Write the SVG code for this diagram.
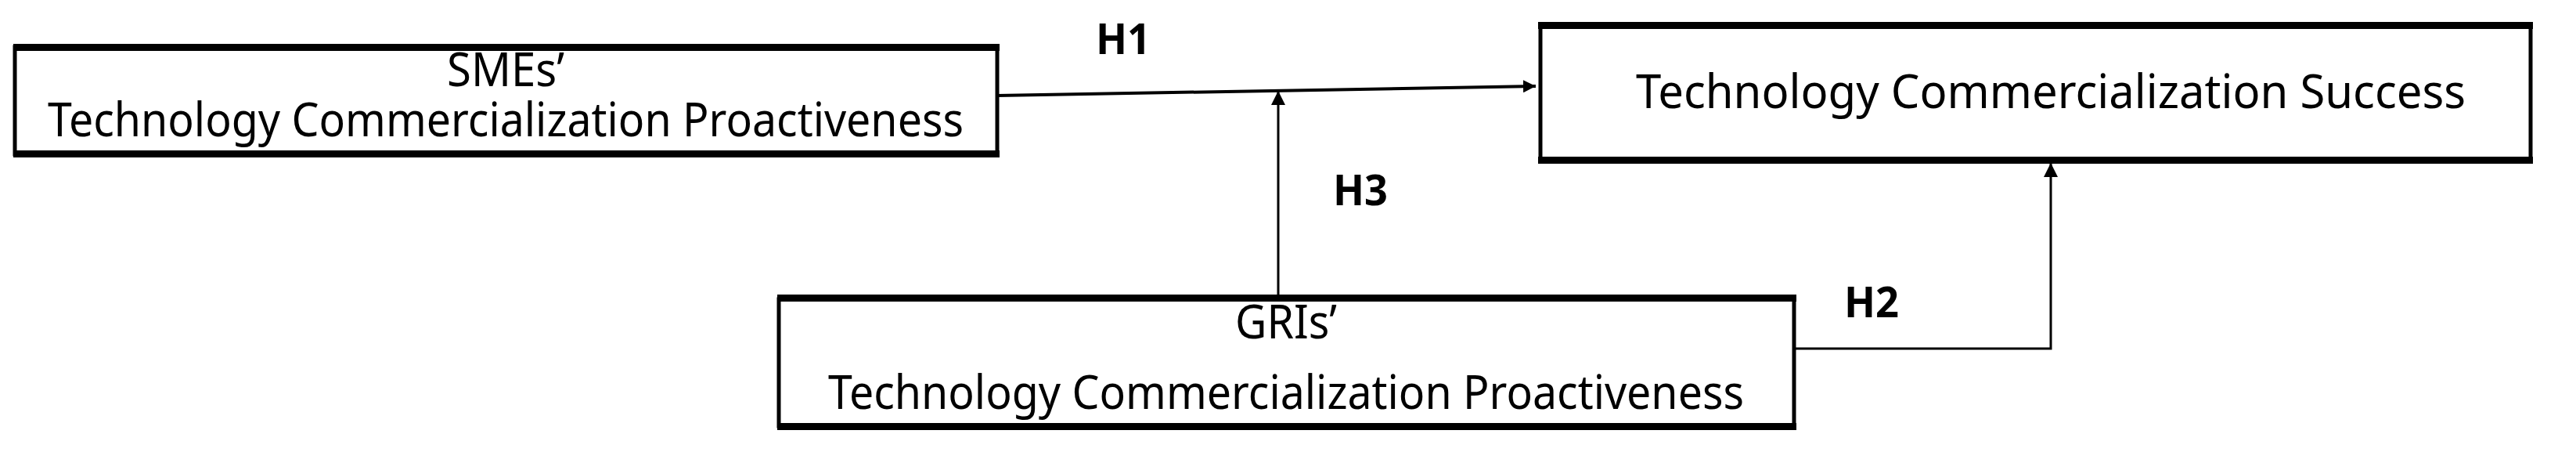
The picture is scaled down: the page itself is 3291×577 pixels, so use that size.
<svg xmlns="http://www.w3.org/2000/svg" width="3291" height="577" viewBox="0 0 3291 577">
<style>
.box{fill:#fff;stroke:#000;stroke-width:5}
.bar{fill:#000}
.t{font-family:"Noto Sans","DejaVu Sans",sans-serif;font-size:60px;text-anchor:middle;fill:#000}
.h{font-family:"Noto Sans","DejaVu Sans",sans-serif;font-size:54px;font-weight:bold;text-anchor:middle;fill:#000}
.c{fill:none;stroke:#000;stroke-width:3}
</style>
<defs>
<marker id="a" viewBox="0 0 10 10" refX="10" refY="5" markerWidth="6" markerHeight="6" markerUnits="strokeWidth" orient="auto"><path d="M0,0L10,5L0,10z" fill="#000"/></marker>
<marker id="a2" viewBox="0 0 10 10" refX="10" refY="5" markerWidth="4" markerHeight="4" markerUnits="strokeWidth" orient="auto"><path d="M0,0L10,5L0,10z" fill="#000"/></marker>
</defs>
<g id="connectors">
<path class="c" d="M1274,122 L1962,110" style="stroke-width:4" marker-end="url(#a2)"/>
<path class="c" d="M1633,378 L1633,116" marker-end="url(#a)"/>
<path class="c" d="M2292,445 L2620,445 L2620,208" marker-end="url(#a)"/>
<text class="h" x="1435" y="69" textLength="70" lengthAdjust="spacingAndGlyphs">H1</text>
<text class="h" x="1738" y="262" textLength="70" lengthAdjust="spacingAndGlyphs">H3</text>
<text class="h" x="2391" y="405" textLength="70" lengthAdjust="spacingAndGlyphs">H2</text>
</g>
<g id="sme">
<rect class="box" x="19" y="60" width="1255" height="137"/>
<rect class="bar" x="17" y="56" width="1260" height="9"/>
<rect class="bar" x="17" y="192" width="1260" height="9"/>
<text class="t" x="646" y="110" textLength="150" lengthAdjust="spacingAndGlyphs">SMEs’</text>
<text class="t" x="646" y="174" textLength="1170" lengthAdjust="spacingAndGlyphs">Technology Commercialization Proactiveness</text>
</g>
<g id="success">
<rect class="box" x="1968" y="33" width="1265" height="172"/>
<rect class="bar" x="1965" y="28" width="1271" height="9"/>
<rect class="bar" x="1965" y="200" width="1271" height="9"/>
<text class="t" x="2620" y="138" textLength="1060" lengthAdjust="spacingAndGlyphs">Technology Commercialization Success</text>
</g>
<g id="gri">
<rect class="box" x="995" y="382" width="1297" height="162"/>
<rect class="bar" x="993" y="376" width="1302" height="9"/>
<rect class="bar" x="993" y="540" width="1302" height="9"/>
<text class="t" x="1643" y="432" textLength="130" lengthAdjust="spacingAndGlyphs">GRIs’</text>
<text class="t" x="1643" y="522" textLength="1170" lengthAdjust="spacingAndGlyphs">Technology Commercialization Proactiveness</text>
</g>
</svg>
